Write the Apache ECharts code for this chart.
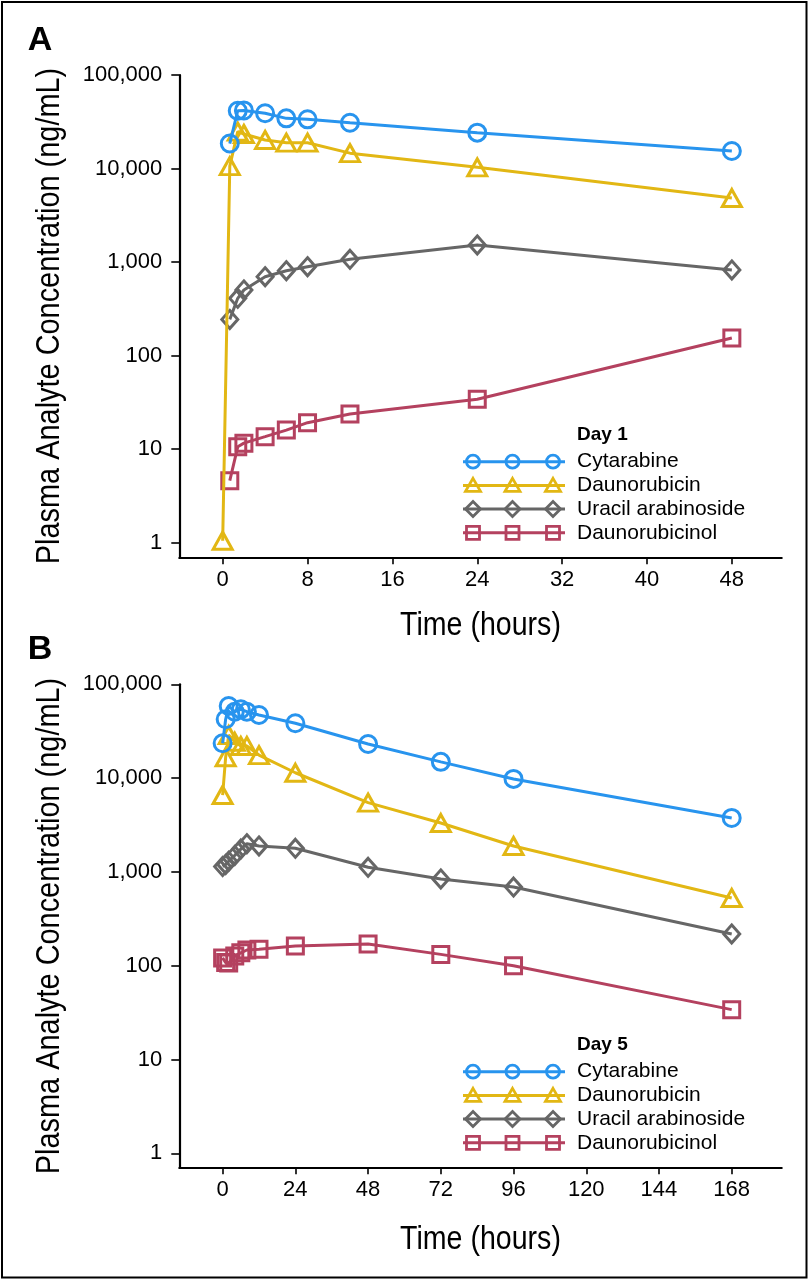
<!DOCTYPE html>
<html><head><meta charset="utf-8">
<script src="https://cdn.jsdelivr.net/npm/echarts@6/dist/echarts.min.js"></script>
<style>html,body{margin:0;padding:0;background:#fff}#c{width:809px;height:1280px}</style>
</head><body><div id="c"></div>
<script>
// ---------- DATA ----------
const seriesNames = ['Cytarabine', 'Daunorubicin', 'Uracil arabinoside', 'Daunorubicinol'];
const seriesColors = ['#2894ee', '#e2b714', '#666666', '#b4415f'];

// Panel A (Day 1)
const timesA = [0, 0.67, 1.42, 2, 4, 6, 8, 12, 24, 48];
const cytarabineA = [null, 18500, 41500, 41800, 39000, 34400, 33600, 30900, 24200, 15400];
const daunorubicinA = [1.05, 10600, 24800, 23400, 20200, 18900, 18900, 14600, 10300, 4840];
const uracilA = [null, 244, 410, 503, 698, 809, 893, 1071, 1523, 823];
const daunorubicinolA = [null, 4.6, 10.6, 11.6, 13.6, 16.0, 19.2, 23.8, 34.1, 154];

// Panel B (Day 5)
const timesB = [0, 1, 2, 4, 6, 8, 12, 24, 48, 72, 96, 168];
const cytarabineB = [23500, 42400, 58700, 51000, 54100, 51000, 47100, 38400, 23100, 14900, 9800, 3760];
const daunorubicinB = [6600, 16700, 28800, 24400, 22000, 22000, 17600, 11400, 5470, 3320, 1890, 527];
const uracilB = [1140, 1200, 1300, 1500, 1750, 2000, 1890, 1785, 1120, 840, 690, 218];
const daunorubicinolB = [121, 108, 107, 127, 137, 147, 150, 162, 170, 132, 100, 34];

// Tick labels
const xTicksA = [0, 8, 16, 24, 32, 40, 48];
const xTicksB = [0, 24, 48, 72, 96, 120, 144, 168];
const yTicks = [1, 10, 100, 1000, 10000, 100000];
const legendTitles = ['Day 1', 'Day 5'];
const panelLabels = ['A', 'B'];
const xTitle = 'Time (hours)';
const yTitle = 'Plasma Analyte Concentration (ng/mL)';

// ---------- STYLE / LAYOUT ----------
const tickFont = 'Liberation Sans, Arial, sans-serif';
const symbols = ['circle', 'triangle', 'diamond', 'rect'];
const symbolSizes = [17, [19, 17], [16, 18], 16];

const panels = [
  { top: 75, height: 482.3, xMin: -4.09, xMax: 52.7, yMin: 0.698, xTicks: xTicksA, times: timesA,
    data: [cytarabineA, daunorubicinA, uracilA, daunorubicinolA], legendTop: 435, xTitleY: 626, yTitleY: 316 },
  { top: 684.3, height: 483, xMin: -14.3, xMax: 184.5, yMin: 0.709, xTicks: xTicksB, times: timesB,
    data: [cytarabineB, daunorubicinB, uracilB, daunorubicinolB], legendTop: 1045, xTitleY: 1240, yTitleY: 926 }
];

const grid = [], xAxis = [], yAxis = [], series = [];
panels.forEach((p, pi) => {
  grid.push({ left: 179.3, top: p.top, width: 602.4, height: p.height });
  xAxis.push({
    gridIndex: pi, type: 'value', min: p.xMin, max: p.xMax,
    axisLine: { show: true, onZero: false, lineStyle: { color: '#000', width: 2.2 } },
    axisTick: { show: true, length: 7, customValues: p.xTicks, lineStyle: { color: '#000', width: 1.6 } },
    axisLabel: { customValues: p.xTicks, color: '#000', fontSize: 22, fontFamily: tickFont, margin: 12 },
    splitLine: { show: false }
  });
  yAxis.push({
    gridIndex: pi, type: 'log', logBase: 10, min: p.yMin, max: 100000,
    axisLine: { show: true, onZero: false, lineStyle: { color: '#000', width: 2.2 } },
    axisTick: { show: true, length: 8, customValues: yTicks, lineStyle: { color: '#000', width: 1.6 } },
    axisLabel: { customValues: yTicks, color: '#000', fontSize: 22, fontFamily: tickFont, margin: 17,
      formatter: v => Math.round(v).toLocaleString('en-US') },
    splitLine: { show: false }
  });
  p.data.forEach((vals, si) => {
    series.push({
      type: 'line', name: seriesNames[si], xAxisIndex: pi, yAxisIndex: pi,
      data: p.times.map((t, i) => [t, vals[i]]).filter(d => d[1] != null),
      symbol: symbols[si], symbolSize: symbolSizes[si],
      lineStyle: { color: seriesColors[si], width: 3 },
      itemStyle: { color: 'rgba(255,255,255,0)', borderColor: seriesColors[si], borderWidth: 3 },
      emphasis: { disabled: true }, animation: false, z: 3.5 - si * 0.1
    });
  });
});

// ---------- legend, titles + decorations as graphic ----------
function markerEl(type, cx, cy, color) {
  const st = { fill: 'none', stroke: color, lineWidth: 2.8 };
  if (type === 'circle') return { type: 'circle', shape: { cx, cy, r: 6.5 }, style: st };
  if (type === 'triangle') return { type: 'polygon', shape: { points: [[cx, cy - 7], [cx + 7.5, cy + 6], [cx - 7.5, cy + 6]] }, style: st };
  if (type === 'diamond') return { type: 'polygon', shape: { points: [[cx, cy - 7.5], [cx + 7.5, cy], [cx, cy + 7.5], [cx - 7.5, cy]] }, style: st };
  return { type: 'rect', shape: { x: cx - 6.5, y: cy - 6.5, width: 13, height: 13 }, style: st };
}
const graphic = [];
graphic.push({ type: 'rect', shape: { x: 2, y: 2, width: 804.5, height: 1275.5 }, style: { fill: 'none', stroke: '#000', lineWidth: 2 }, z: 10 });
const letterY = [41, 650];
panelLabels.forEach((L, i) => {
  graphic.push({ type: 'text', x: 40, y: letterY[i], style: { text: L, font: 'bold 34px Liberation Sans, Arial, sans-serif', fill: '#000', align: 'center', verticalAlign: 'middle', textAlign: 'center', textVerticalAlign: 'middle' } });
});
panels.forEach((p, pi) => {
  // axis titles (condensed look via horizontal scale)
  graphic.push({ type: 'text', x: 480.5, y: p.xTitleY, scaleX: 0.84, style: { text: xTitle, font: '34px Liberation Sans, Arial, sans-serif', fill: '#000', align: 'center', verticalAlign: 'middle', textAlign: 'center', textVerticalAlign: 'middle' } });
  graphic.push({ type: 'text', x: 50, y: p.yTitleY, rotation: Math.PI / 2, scaleX: 0.85, style: { text: yTitle, font: '34px Liberation Sans, Arial, sans-serif', fill: '#000', align: 'center', verticalAlign: 'middle', textAlign: 'center', textVerticalAlign: 'middle' } });
  // legend
  graphic.push({ type: 'text', x: 577, y: p.legendTop, style: { text: legendTitles[pi], font: 'bold 19px Liberation Sans, Arial, sans-serif', fill: '#000', verticalAlign: 'middle', textVerticalAlign: 'middle' } });
  seriesNames.forEach((nm, si) => {
    const cy = p.legendTop + 26.7 + si * 23.7;
    graphic.push({ type: 'line', shape: { x1: 463, y1: cy, x2: 565, y2: cy }, style: { stroke: seriesColors[si], lineWidth: 3 } });
    [473, 512.5, 553].forEach(cx => graphic.push(markerEl(symbols[si], cx, cy, seriesColors[si])));
    graphic.push({ type: 'text', x: 577, y: cy, style: { text: nm, font: '21px Liberation Sans, Arial, sans-serif', fill: '#000', verticalAlign: 'middle', textVerticalAlign: 'middle' } });
  });
});

const chart = echarts.init(document.getElementById('c'), null, { renderer: 'canvas' });
chart.setOption({ animation: false, backgroundColor: '#fff', grid, xAxis, yAxis, series, graphic });
</script></body></html>
